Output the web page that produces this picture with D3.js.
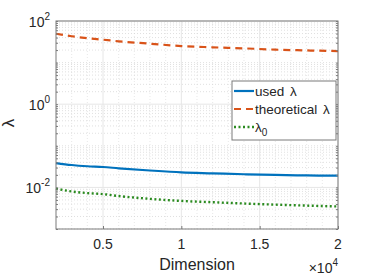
<!DOCTYPE html>
<html>
<head>
<meta charset="utf-8">
<script src="https://cdn.jsdelivr.net/npm/d3@7"></script>
<style>
  body { margin: 0; background: #fff; }
  text { font-family: "Liberation Sans", Arial, sans-serif; fill: #262626; }
</style>
</head>
<body>
<div id="chart"></div>
<script>
// values
const dims = [2000, 3000, 4000, 5000, 6000, 8000, 10000, 12000, 14000, 16000, 18000, 20000];
const usedLambda = [0.0385, 0.0345, 0.0322, 0.0309, 0.0288, 0.0255, 0.0230, 0.0218, 0.0207, 0.0199, 0.0194, 0.0191];
const theoLambda = [49.4, 43.0, 38.5, 35.5, 32.5, 28.5, 25.0, 23.3, 22.0, 20.5, 19.6, 18.9];
const lambda0 = [0.0093, 0.0080, 0.0073, 0.0069, 0.0062, 0.0053, 0.00473, 0.00440, 0.00410, 0.00385, 0.00365, 0.00348];
const xTicks = [5000, 10000, 15000, 20000];
const xTickLabels = ["0.5", "1", "1.5", "2"];
const yTicks = [1e-2, 1, 1e2];
const yTickExps = ["-2", "0", "2"];

const series = [
  {name: "used", values: usedLambda, color: "#0072bd", dash: null, width: 2.2},
  {name: "theoretical", values: theoLambda, color: "#d95319", dash: "7,5", width: 2.2},
  {name: "lambda0", values: lambda0, color: "#2a8a1f", dash: "2,2.5", width: 2.4}
];

const W = 374, H = 276;
const margin = {top: 21, right: 36, bottom: 47, left: 56},
    width = W - margin.left - margin.right,
    height = H - margin.top - margin.bottom;

const svg = d3.select("#chart").append("svg")
    .attr("width", W)
    .attr("height", H);

const g = svg.append("g")
    .attr("transform", "translate(" + margin.left + "," + margin.top + ")");

const x = d3.scaleLinear().domain([2000, 20000]).range([0, width]);
const y = d3.scaleLog().domain([1e-3, 1e2]).range([height, 0]);

// minor grid
const xMinor = d3.range(3000, 20000, 1000).filter(v => v % 5000 !== 0);
const yMinor = [];
for (let e = -3; e < 2; e++) for (let k = 2; k <= 9; k++) yMinor.push(k * Math.pow(10, e));
[1e-3, 1e-1, 1e1].forEach(v => yMinor.push(v));

g.append("g").selectAll("line").data(xMinor).join("line")
    .attr("x1", d => x(d)).attr("x2", d => x(d))
    .attr("y1", 0).attr("y2", height)
    .attr("stroke", "#d8d8d8").attr("stroke-width", 0.6).attr("stroke-dasharray", "1,2");
g.append("g").selectAll("line").data(yMinor).join("line")
    .attr("x1", 0).attr("x2", width)
    .attr("y1", d => y(d)).attr("y2", d => y(d))
    .attr("stroke", "#d2d2d2").attr("stroke-width", 0.7).attr("stroke-dasharray", "1,2");

// major grid
g.append("g").selectAll("line").data(xTicks).join("line")
    .attr("x1", d => x(d)).attr("x2", d => x(d))
    .attr("y1", 0).attr("y2", height)
    .attr("stroke", "#e6e6e6").attr("stroke-width", 1);
g.append("g").selectAll("line").data(yTicks).join("line")
    .attr("x1", 0).attr("x2", width)
    .attr("y1", d => y(d)).attr("y2", d => y(d))
    .attr("stroke", "#e6e6e6").attr("stroke-width", 1);

// lines
const line = d3.line().x((d, i) => x(dims[i])).y(d => y(d)).curve(d3.curveMonotoneX);
series.forEach(s => {
  g.append("path")
      .datum(s.values)
      .attr("fill", "none")
      .attr("stroke", s.color)
      .attr("stroke-width", s.width)
      .attr("stroke-dasharray", s.dash)
      .attr("d", line);
});

// box + ticks
const axisColor = "#7a7a7a";
g.append("rect").attr("width", width).attr("height", height)
    .attr("fill", "none").attr("stroke", axisColor).attr("stroke-width", 1);

const xAxis = d3.axisBottom(x).tickValues(xTicks).tickSizeInner(-3).tickSizeOuter(0).tickFormat("");
const yAxis = d3.axisLeft(y).tickValues(yMinor.concat(yTicks)).tickSizeInner(-2).tickSizeOuter(0).tickFormat("");
g.append("g").attr("transform", "translate(0," + height + ")").call(xAxis)
    .call(a => a.select(".domain").remove())
    .selectAll("line").attr("stroke", axisColor);
g.append("g").call(yAxis)
    .call(a => a.select(".domain").remove())
    .selectAll("line").attr("stroke", axisColor);
g.append("g").attr("transform", "translate(" + width + ",0)")
    .call(d3.axisRight(y).tickValues(yMinor.concat(yTicks)).tickSizeInner(-2).tickSizeOuter(0).tickFormat(""))
    .call(a => a.select(".domain").remove())
    .selectAll("line").attr("stroke", axisColor);

// tick labels
g.append("g").selectAll("text").data(xTicks).join("text")
    .attr("x", d => x(d)).attr("y", height + 20)
    .attr("text-anchor", "middle")
    .style("font-size", "14px")
    .text((d, i) => xTickLabels[i]);

const yl = g.append("g").selectAll("text").data(yTicks).join("text")
    .attr("x", -6).attr("y", d => y(d) + 6)
    .attr("text-anchor", "end")
    .style("font-size", "14px");
yl.append("tspan").text("10");
yl.append("tspan").attr("dy", -7).style("font-size", "10px").text((d, i) => yTickExps[i]);

// axis labels
g.append("text")
    .attr("x", width / 2).attr("y", height + 41)
    .attr("text-anchor", "middle")
    .style("font-size", "16px")
    .text("Dimension");

const ex = g.append("text")
    .attr("x", width).attr("y", height + 44)
    .attr("text-anchor", "end")
    .style("font-size", "14px");
ex.append("tspan").text("\u00d710");
ex.append("tspan").attr("dy", -7).style("font-size", "10px").text("4");

g.append("text")
    .attr("transform", "translate(" + (-42) + "," + (height / 2 - 2) + ") rotate(-90)")
    .attr("text-anchor", "middle")
    .style("font-size", "17px")
    .text("\u03bb");

// legend
const legend = g.append("g").attr("transform", "translate(" + (width - 106) + ",60)");
legend.append("rect")
    .attr("width", 104).attr("height", 59)
    .attr("fill", "#fff").attr("stroke", axisColor).attr("stroke-width", 1);
const labels = ["used \u03bb", "theoretical \u03bb", "\u03bb"];
series.forEach((s, i) => {
  const ly = 10 + i * 18;
  legend.append("line")
      .attr("x1", 2).attr("x2", 22).attr("y1", ly).attr("y2", ly)
      .attr("stroke", s.color).attr("stroke-width", s.width)
      .attr("stroke-dasharray", s.dash);
  const t = legend.append("text")
      .attr("x", 23).attr("y", ly + 5)
      .style("font-size", "13.5px")
      .style("word-spacing", "2px")
      .text(labels[i]);
  if (i === 2) t.append("tspan").attr("dy", 4).style("font-size", "10px").text("0");
});
</script>
</body>
</html>
